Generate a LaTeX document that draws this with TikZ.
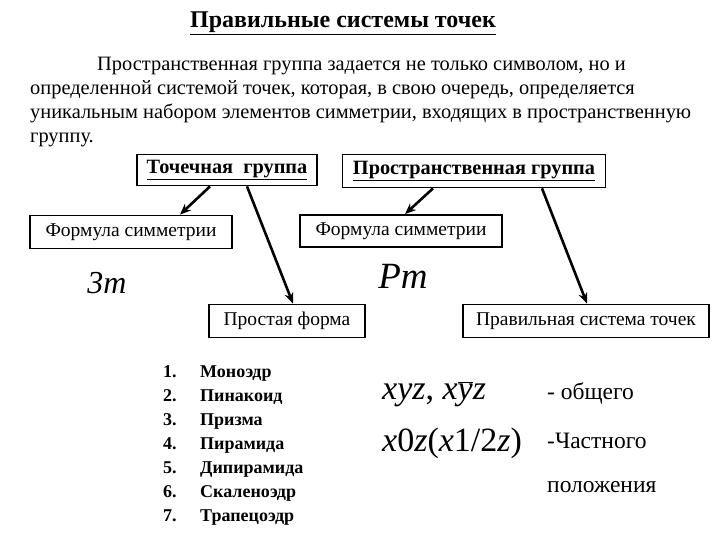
\documentclass[tikz,border=0pt]{standalone}
\usepackage{fontspec}
\setmainfont{LiberationSerif}[Extension=.ttf, UprightFont=*-Regular, BoldFont=*-Bold, ItalicFont=*-Italic, BoldItalicFont=*-BoldItalic]
\usetikzlibrary{arrows.meta, positioning, calc}

\begin{document}
\begin{tikzpicture}[
          x=1pt, y=-1pt,
          framebox/.style={rectangle, draw=black, line width=1.8pt, inner sep=0pt, font=\fontsize{19.5}{22}\selectfont},
          headbox/.style={framebox, font=\fontsize{20.3}{22}\selectfont\bfseries},
          pointer/.style={line width=2.6pt, -{Stealth[length=11pt, width=9pt]}},
          bodytext/.style={anchor=base west, inner sep=0pt, font=\fontsize{20.4}{22}\selectfont},
          listnum/.style={anchor=base west, inner sep=0pt, font=\fontsize{18}{20}\selectfont\bfseries},
          bigmath/.style={anchor=base west, inner sep=0pt, font=\fontsize{34}{36}\selectfont},
          sidetext/.style={anchor=base west, inner sep=0pt, font=\fontsize{23.5}{26}\selectfont}
        ]
          \useasboundingbox[fill=white] (0,0) rectangle (720,540);

          % Title and introduction
          \node[anchor=base, inner sep=0pt, font=\fontsize{24}{26}\selectfont\bfseries] (title) at (343,28) {\underline{Правильные системы точек}};
          \node[bodytext] (line1) at (97,71) {Пространственная группа задается не только символом, но и};
          \node[bodytext] (line2) at (30,95) {определенной системой точек, которая, в свою очередь, определяется};
          \node[bodytext] (line3) at (30,119) {уникальным набором элементов симметрии, входящих в пространственную};
          \node[bodytext] (line4) at (30,143) {группу.};

          % Top boxes
          \node[headbox, minimum width=180, minimum height=31] (tg) at (227,170) {\underline{Точечная\ \ группа}};
          \node[headbox, minimum width=263, minimum height=33] (sg) at (474,171) {\underline{Пространственная группа}};

          % Second row
          \node[framebox, minimum width=202, minimum height=33] (lf) at (131,232) {Формула симметрии};
          \node[framebox, minimum width=202, minimum height=32] (rf) at (401,231) {Формула симметрии};
          \node[inner sep=0pt, font=\fontsize{32}{34}\selectfont\itshape] (sym3m) at (107,283) {3m};
          \node[inner sep=0pt, font=\fontsize{37}{38}\selectfont\itshape] (symPm) at (403,276) {Pm};

          % Third row
          \node[framebox, minimum width=156, minimum height=33] (pf) at (287,321) {Простая форма};
          \node[framebox, minimum width=246, minimum height=33] (rs) at (586,321) {Правильная система точек};

          % Arrows
          \draw[pointer] ([xshift=-17]tg.south) -- ([xshift=49]lf.north);
          \draw[pointer] ([xshift=20]tg.south) -- ([xshift=6]pf.north);
          \draw[pointer] ([xshift=-41]sg.south) -- ([xshift=4]rf.north);
          \draw[pointer] ([xshift=68]sg.south) -- ([xshift=1]rs.north);

          % List of simple forms
          \foreach \form [count=\i] in {Моноэдр, Пинакоид, Призма, Пирамида, Дипирамида, Скаленоэдр, Трапецоэдр} {
            \node[listnum] (num\i) at (163,353+24*\i) {\i.};
            \node[listnum] (form\i) at (200,353+24*\i) {\form};
          }

          % Point positions
          \node[bigmath] (gen) at (382,399) {\textit{xyz}, \textit{x}$\overline{\mbox{\textit{y}}}$\textit{z}};
          \node[bigmath] (spec) at (382,451) {\textit{x}0\textit{z}(\textit{x}1/2\textit{z})};
          \node[sidetext] (genlbl) at (547,399) {- общего};
          \node[sidetext] (speclbl) at (547,448) {-Частного};
          \node[sidetext] (speclbl2) at (547,492) {положения};
        \end{tikzpicture}
\end{document}
